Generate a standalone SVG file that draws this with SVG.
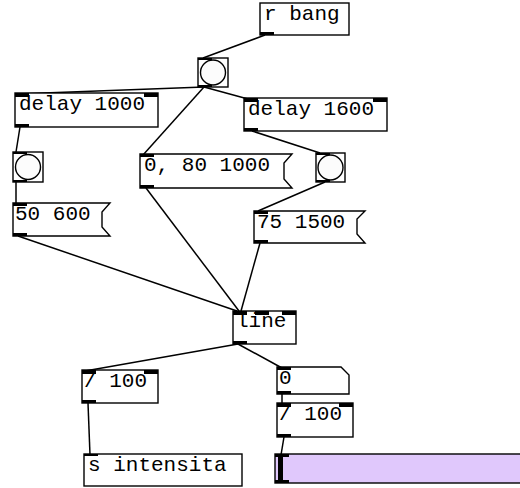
<svg xmlns="http://www.w3.org/2000/svg" width="520" height="488" viewBox="0 0 520 488">
<style>
.b{fill:#fff;stroke:#000;stroke-width:1.4}
.t{font-family:"Liberation Mono","DejaVu Sans Mono",monospace;font-size:21px;fill:#000}
.io{fill:#000}
.w{stroke:#000;stroke-width:1.5;fill:none}
</style>
<rect width="520" height="488" fill="#fff"/>
<g id="connectors">
<line class="w" x1="265" y1="35" x2="203" y2="58"/>
<line class="w" x1="204" y1="87" x2="17" y2="94"/>
<line class="w" x1="204" y1="87" x2="248" y2="99"/>
<line class="w" x1="204" y1="87" x2="143" y2="155"/>
<line class="w" x1="20" y1="127" x2="16" y2="152"/>
<line class="w" x1="16" y1="182" x2="16" y2="203"/>
<line class="w" x1="252" y1="131" x2="320" y2="153"/>
<line class="w" x1="325" y1="182" x2="258" y2="211"/>
<line class="w" x1="18" y1="236" x2="237" y2="311"/>
<line class="w" x1="146" y1="188" x2="239" y2="311"/>
<line class="w" x1="260" y1="243" x2="241" y2="311"/>
<line class="w" x1="238" y1="344" x2="85" y2="371"/>
<line class="w" x1="238" y1="344" x2="282" y2="368"/>
<line class="w" x1="282" y1="394" x2="282" y2="403"/>
<line class="w" x1="284" y1="437" x2="281" y2="455"/>
<line class="w" x1="88" y1="403" x2="90" y2="455"/>
</g>
<g id="rbang">
<rect class="b" x="260" y="3" width="89" height="32"/>
<text class="t" x="264" y="20">r bang</text>
<rect class="io" x="260" y="32" width="14" height="3"/>
</g>
<g id="bang1">
<rect class="b" x="198" y="58" width="30" height="29"/>
<circle cx="213" cy="72.5" r="12.5" fill="#fcfcfc" stroke="#000" stroke-width="1.4"/>
<rect class="io" x="198" y="58" width="14" height="2"/>
<rect class="io" x="198" y="85" width="14" height="2"/>
</g>
<g id="delay1000">
<rect class="b" x="15" y="93" width="143" height="34"/>
<text class="t" x="19" y="110">delay 1000</text>
<rect class="io" x="15" y="93" width="14" height="4"/>
<rect class="io" x="144" y="93" width="14" height="4"/>
<rect class="io" x="15" y="124" width="14" height="3"/>
</g>
<g id="delay1600">
<rect class="b" x="244" y="98" width="143" height="33"/>
<text class="t" x="248" y="115">delay 1600</text>
<rect class="io" x="244" y="98" width="14" height="4"/>
<rect class="io" x="373" y="98" width="14" height="4"/>
<rect class="io" x="244" y="128" width="14" height="3"/>
</g>
<g id="bang2">
<rect class="b" x="13" y="152" width="30" height="30"/>
<circle cx="28" cy="167" r="12.5" fill="#fcfcfc" stroke="#000" stroke-width="1.4"/>
<rect class="io" x="13" y="152" width="14" height="2"/>
<rect class="io" x="13" y="180" width="14" height="2"/>
</g>
<g id="msg50">
<path class="b" d="M13,203 H110 L102,212 V227 L110,236 H13 Z"/>
<text class="t" x="15" y="220">50 600</text>
<rect class="io" x="13" y="203" width="14" height="3"/>
<rect class="io" x="13" y="233" width="14" height="3"/>
</g>
<g id="msg0">
<path class="b" d="M140,154 H292 L284,163 V179 L292,188 H140 Z"/>
<text class="t" x="144" y="171">0, 80 1000</text>
<rect class="io" x="140" y="154" width="14" height="3"/>
<rect class="io" x="140" y="185" width="14" height="3"/>
</g>
<g id="bang3">
<rect class="b" x="316" y="153" width="29" height="29"/>
<circle cx="330.5" cy="167.5" r="12.5" fill="#fcfcfc" stroke="#000" stroke-width="1.4"/>
<rect class="io" x="316" y="153" width="14" height="2"/>
<rect class="io" x="316" y="180" width="14" height="2"/>
</g>
<g id="msg75">
<path class="b" d="M254,211 H365 L357,219 V234 L365,243 H254 Z"/>
<text class="t" x="257" y="228">75 1500</text>
<rect class="io" x="254" y="211" width="14" height="3"/>
<rect class="io" x="254" y="240" width="14" height="3"/>
</g>
<g id="line">
<rect class="b" x="233" y="311" width="63" height="33"/>
<text class="t" x="236" y="327">line</text>
<rect class="io" x="233" y="311" width="14" height="4"/>
<rect class="io" x="255" y="311" width="14" height="4"/>
<rect class="io" x="282" y="311" width="14" height="4"/>
<rect class="io" x="233" y="341" width="14" height="3"/>
</g>
<g id="div1">
<rect class="b" x="82" y="370" width="76" height="33"/>
<text class="t" x="84" y="387">/ 100</text>
<rect class="io" x="82" y="370" width="14" height="4"/>
<rect class="io" x="144" y="370" width="14" height="4"/>
<rect class="io" x="82" y="400" width="14" height="3"/>
</g>
<g id="num">
<path class="b" d="M277,367 H341 L349,375 V394 H277 Z"/>
<text class="t" x="279" y="384">0</text>
<rect class="io" x="277" y="367" width="14" height="3"/>
<rect class="io" x="277" y="391" width="14" height="3"/>
</g>
<g id="div2">
<rect class="b" x="277" y="403" width="76" height="34"/>
<text class="t" x="279" y="420">/ 100</text>
<rect class="io" x="277" y="403" width="14" height="4"/>
<rect class="io" x="339" y="403" width="14" height="4"/>
<rect class="io" x="277" y="434" width="14" height="3"/>
</g>
<g id="send">
<rect class="b" x="84" y="454" width="158" height="32"/>
<text class="t" x="88" y="471">s intensita</text>
<rect class="io" x="84" y="454" width="14" height="2"/>
</g>
<g id="slider">
<rect x="275" y="454" width="250" height="29" fill="#e0c8fc" stroke="#000" stroke-width="1.4"/>
<rect class="io" x="278" y="455" width="5" height="27"/>
<rect class="io" x="275" y="454" width="14" height="3"/>
<rect class="io" x="275" y="480" width="14" height="3"/>
</g>
</svg>
